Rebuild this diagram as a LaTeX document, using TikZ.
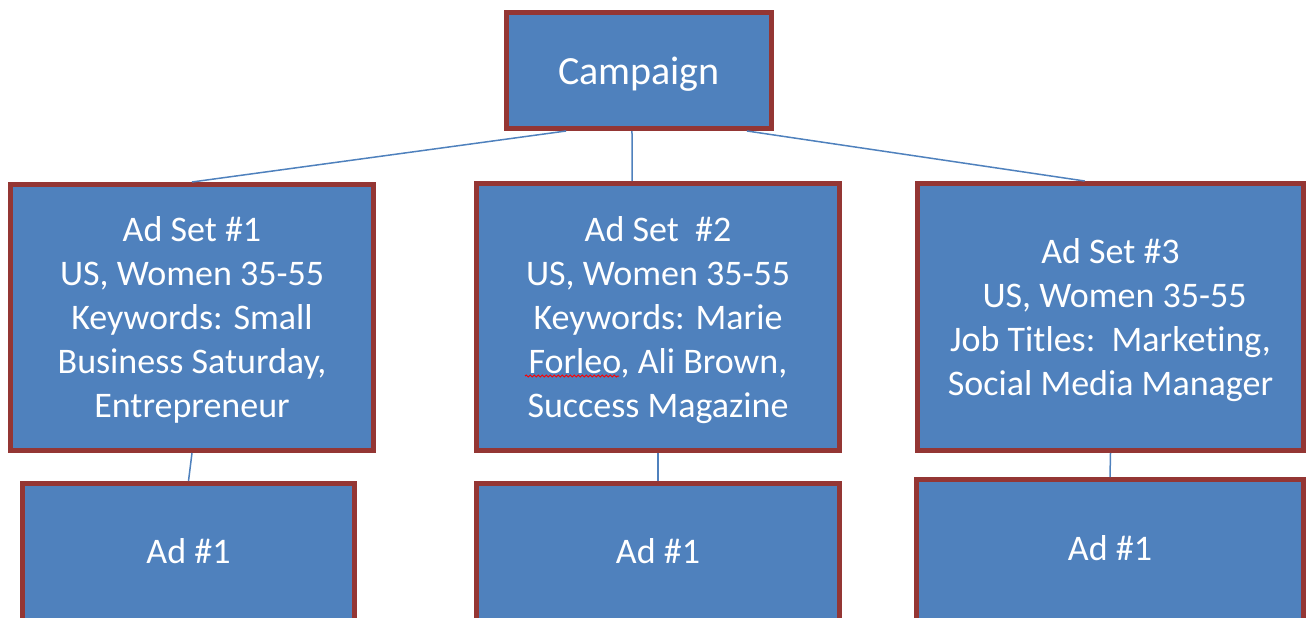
\documentclass[tikz,border=0pt]{standalone}
\usepackage{fontspec}
\setmainfont{Carlito}[Ligatures=NoCommon]
\usetikzlibrary{calc, decorations.pathmorphing}
\definecolor{boxblue}{HTML}{4F81BD}
\definecolor{boxred}{HTML}{943634}
\tikzset{>=stealth}

\begin{document}
\begin{tikzpicture}[x=1pt, y=-1pt,
    box/.style={draw=boxred, line width=5pt, fill=boxblue, text=white, align=center,
        inner sep=0pt, font=\fontsize{36}{44}\selectfont},
    setbox/.style={box, text depth=1pt},
    adbox/.style={box, text depth=6pt},
    link/.style={draw=boxblue, line width=1.5pt}]
    \useasboundingbox (0,0) rectangle (1306,618);
    \clip (0,0) rectangle (1306,618);
    % top level
    \node[box, minimum width=265pt, minimum height=116pt, text height=34pt,
        font=\fontsize{40}{48}\selectfont] (camp) at (639,70.5) {Campaign};
    % ad sets
    \node[setbox, minimum width=363pt, minimum height=266pt] (set1) at (192,317.5)
        {Ad Set \#1\\US, Women 35-55\\Keywords: Small\\Business Saturday,\\Entrepreneur};
    \node[setbox, minimum width=363pt, minimum height=267pt] (set2) at (658,317)
        {Ad Set~~\#2\\US, Women 35-55\\Keywords: Marie\\Forleo, Ali Brown,\\Success Magazine};
    \node[setbox, minimum width=386pt, minimum height=267pt] (set3) at (1110.5,317)
        {Ad Set \#3\\~US, Women 35-55\\Job Titles:~~Marketing,\\Social Media Manager};
    % ads
    \node[adbox, minimum width=332pt, minimum height=141pt] (ad1) at (188.5,554) {Ad \#1};
    \node[adbox, minimum width=363pt, minimum height=141pt] (ad2) at (658,554) {Ad \#1};
    \node[adbox, minimum width=387pt, minimum height=143pt] (ad3) at (1110,551) {Ad \#1};
    % connectors
    \draw[link] ($(camp.south west)!0.23!(camp.south east)$) -- (set1.north);
    \draw[link] ($(camp.south west)!0.474!(camp.south east)$) -- ($(set2.north west)!0.43!(set2.north east)$);
    \draw[link] ($(camp.south west)!0.9!(camp.south east)$) -- ($(set3.north west)!0.434!(set3.north east)$);
    \draw[link] (set1.south) -- (ad1.north);
    \draw[link] (set2.south) -- (ad2.north);
    \draw[link] (set3.south) -- (ad3.north);
    % spell-check mark
    \draw[red, line width=1pt, decorate, decoration={snake, amplitude=1pt, segment length=4pt}]
        ($(set2)+(-133,59)$) -- ($(set2)+(-39,59)$);
\end{tikzpicture}
\end{document}
